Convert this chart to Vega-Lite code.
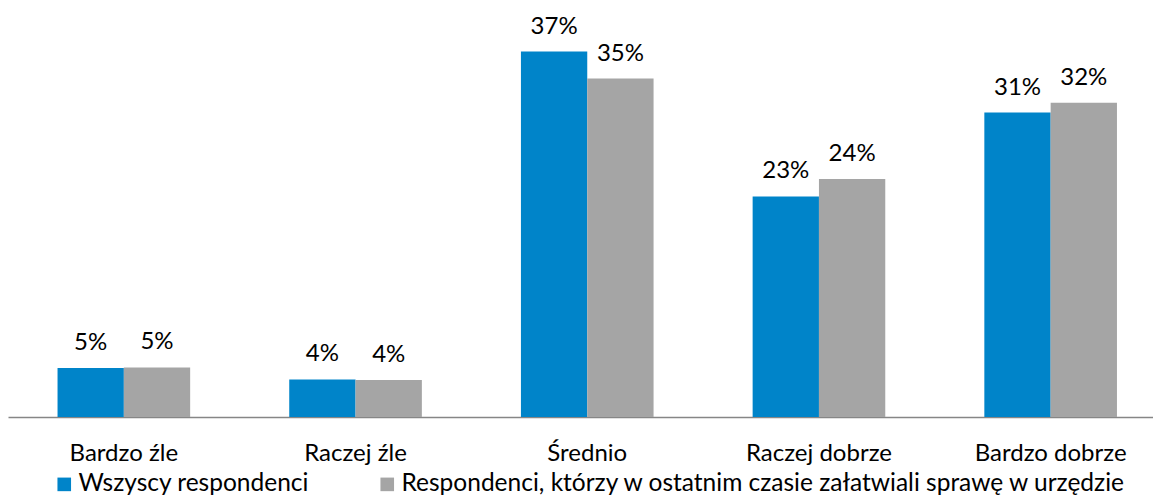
{
  "$schema": "https://vega.github.io/schema/vega-lite/v6.json",
  "width": 1145,
  "height": 391,
  "autosize": {"type": "none"},
  "padding": {"left": 8, "top": 26, "right": 0, "bottom": 78},
  "background": "white",
  "config": {
    "view": {"stroke": null},
    "font": "Lato",
    "text": {"font": "Lato"}
  },
  "data": {
    "values": [
      {"kategoria": "Bardzo źle", "grupa": "Wszyscy respondenci", "wartosc": 0.0501},
      {"kategoria": "Bardzo źle", "grupa": "Respondenci, którzy w ostatnim czasie załatwiali sprawę w urzędzie", "wartosc": 0.0507},
      {"kategoria": "Raczej źle", "grupa": "Wszyscy respondenci", "wartosc": 0.0384},
      {"kategoria": "Raczej źle", "grupa": "Respondenci, którzy w ostatnim czasie załatwiali sprawę w urzędzie", "wartosc": 0.0378},
      {"kategoria": "Średnio", "grupa": "Wszyscy respondenci", "wartosc": 0.3738},
      {"kategoria": "Średnio", "grupa": "Respondenci, którzy w ostatnim czasie załatwiali sprawę w urzędzie", "wartosc": 0.3462},
      {"kategoria": "Raczej dobrze", "grupa": "Wszyscy respondenci", "wartosc": 0.2256},
      {"kategoria": "Raczej dobrze", "grupa": "Respondenci, którzy w ostatnim czasie załatwiali sprawę w urzędzie", "wartosc": 0.2434},
      {"kategoria": "Bardzo dobrze", "grupa": "Wszyscy respondenci", "wartosc": 0.3115},
      {"kategoria": "Bardzo dobrze", "grupa": "Respondenci, którzy w ostatnim czasie załatwiali sprawę w urzędzie", "wartosc": 0.3214}
    ]
  },
  "encoding": {
    "x": {
      "field": "kategoria",
      "type": "nominal",
      "sort": ["Bardzo źle", "Raczej źle", "Średnio", "Raczej dobrze", "Bardzo dobrze"],
      "scale": {"range": [0, 1158.5], "paddingInner": 0.4276, "paddingOuter": 0.2138},
      "axis": {
        "title": null,
        "labelAngle": 0,
        "ticks": false,
        "labelPadding": 43,
        "labelBaseline": "alphabetic",
        "labelFont": "Lato",
        "labelFontSize": 24,
        "labelColor": "#000000",
        "domainColor": "#868686",
        "domainWidth": 1.6,
        "grid": false
      }
    },
    "xOffset": {
      "field": "grupa",
      "type": "nominal",
      "sort": ["Wszyscy respondenci", "Respondenci, którzy w ostatnim czasie załatwiali sprawę w urzędzie"],
      "scale": {"paddingInner": 0, "paddingOuter": 0}
    },
    "y": {
      "field": "wartosc",
      "type": "quantitative",
      "scale": {"domain": [0, 0.4], "nice": false},
      "axis": null
    }
  },
  "layer": [
    {
      "mark": {"type": "bar"},
      "encoding": {
        "color": {
          "field": "grupa",
          "type": "nominal",
          "sort": ["Wszyscy respondenci", "Respondenci, którzy w ostatnim czasie załatwiali sprawę w urzędzie"],
          "scale": {"range": ["#0084C9", "#A5A5A5"]},
          "legend": {
            "title": null,
            "orient": "none",
            "legendX": 44,
            "legendY": 446,
            "direction": "horizontal",
            "padding": 0,
            "symbolType": "square",
            "symbolSize": 185,
            "symbolStrokeWidth": 0,
            "symbolOpacity": 1,
            "labelFont": "Lato",
            "labelFontSize": 24.5,
            "labelColor": "#000000",
            "labelLimit": 0,
            "labelOffset": 2,
            "columnPadding": 65
          }
        }
      }
    },
    {
      "mark": {"type": "text", "baseline": "alphabetic", "dy": -18, "font": "Lato", "fontSize": 24, "color": "#000000"},
      "encoding": {
        "text": {"field": "wartosc", "type": "quantitative", "format": ".0%"}
      }
    }
  ]
}
